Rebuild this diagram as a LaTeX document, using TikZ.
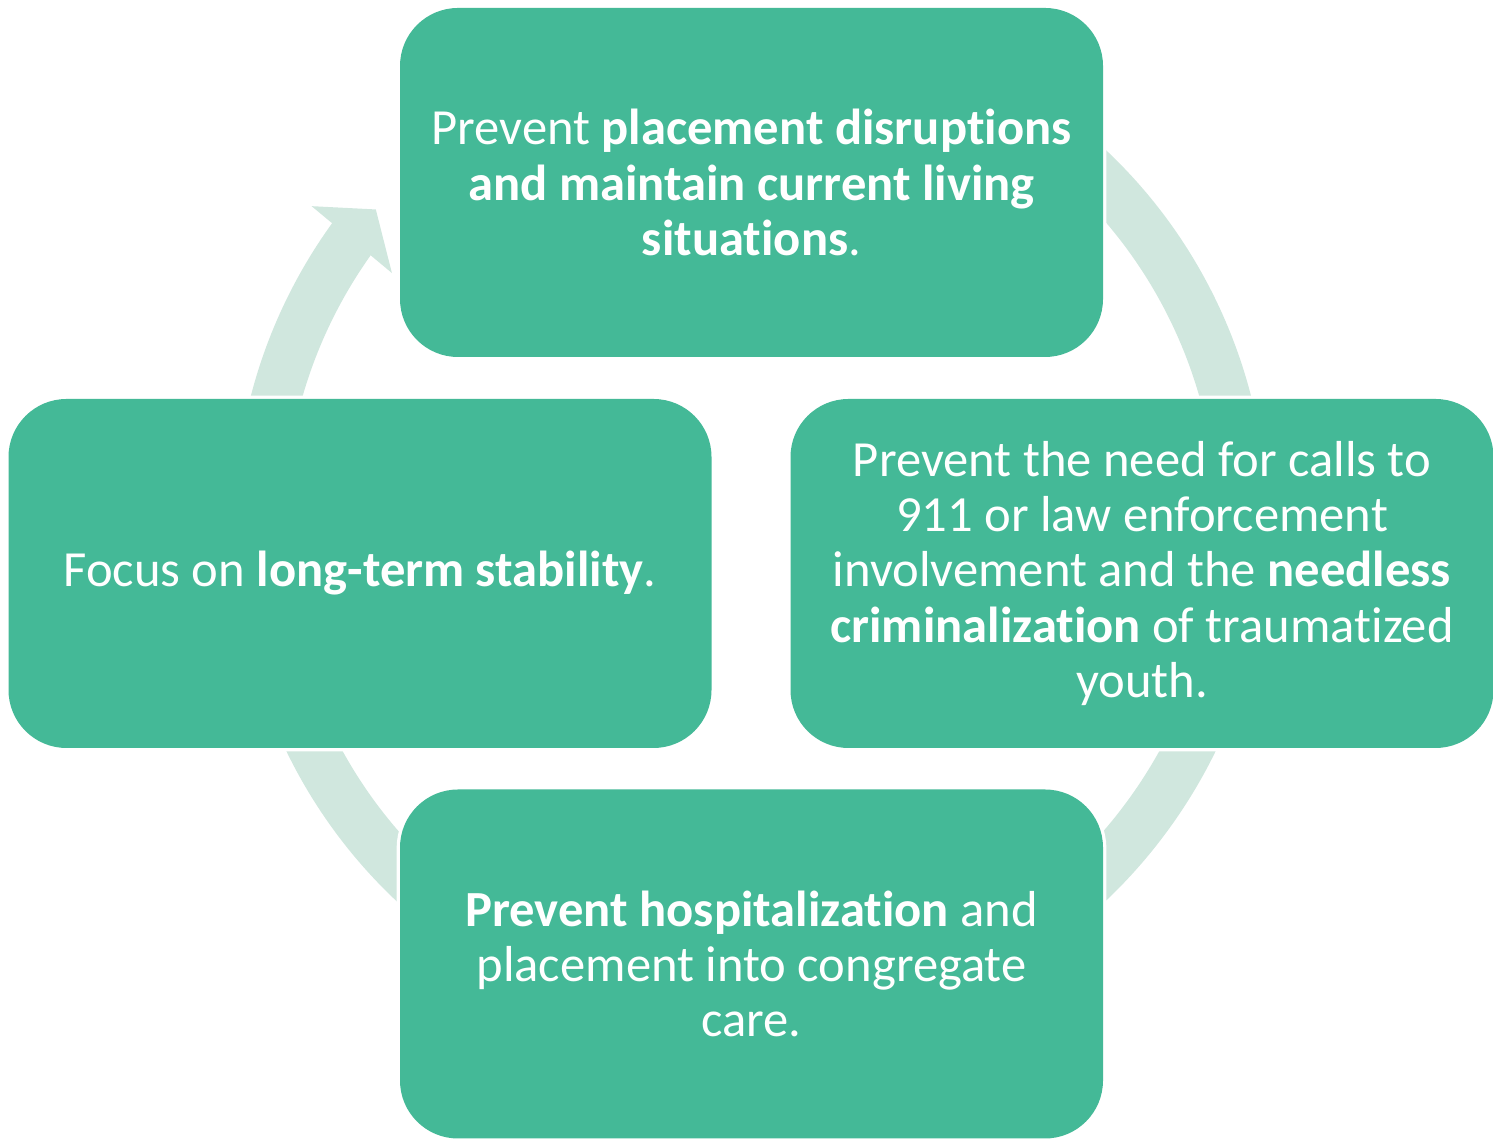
\documentclass[tikz,border=0pt]{standalone}
\usepackage{fontspec}
\setmainfont[Ligatures=NoCommon]{Carlito}
\definecolor{boxc}{RGB}{68,185,151}
\definecolor{ringc}{RGB}{208,231,222}
\begin{document}
\begin{tikzpicture}[x=0.5pt,y=0.5pt,
  stage/.style={rectangle, rounded corners=29pt, fill=boxc,
    preaction={draw=white, line width=3.3pt},
    minimum width=351.5pt, minimum height=174.5pt, inner sep=0pt,
    text=white, align=center, font=\fontsize{25.3pt}{27.6pt}\selectfont},
  ringline/.style={draw=ringc, line width=25pt},
  ringhead/.style={fill=ringc}]
\useasboundingbox (0,0) rectangle (1493,1139);
\coordinate (c) at (751,613.6);
% cycle ring
\path[ringline] ([shift={(c)}]144.0:491.5) arc[start angle=144.0, end angle=460, radius=491.5];
\path[ringhead] ([shift={(c)}]144.0:543.1) -- ([shift={(c)}]139.9:490.5) -- ([shift={(c)}]144.9:438.9) -- cycle;
% stages
\node[stage] (top) at (751.5,956.5) {Prevent \textbf{placement disruptions}\\\textbf{and maintain current living}\\\textbf{situations}.};
\node[stage] (right) at (1142,565.5) {Prevent the need for calls to\\911 or law enforcement\\involvement and the \textbf{needless}\\\textbf{criminalization} of traumatized\\youth.};
\node[stage] (bottom) at (751.5,175) {\textbf{Prevent hospitalization} and\\placement into congregate\\care.};
\node[stage] (left) at (360,565.5) {Focus on \textbf{long-term stability}.};
\end{tikzpicture}
\end{document}
